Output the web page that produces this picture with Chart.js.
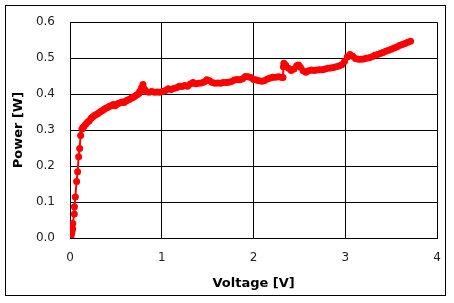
<!DOCTYPE html>
<html>
<head>
<meta charset="utf-8">
<script src="https://cdn.jsdelivr.net/npm/chart.js@4/dist/chart.umd.min.js"></script>
<style>
  html, body { margin: 0; padding: 0; background: #fff; }
  #wrap { width: 454px; height: 303px; }
</style>
</head>
<body>
<div id="wrap"><canvas id="powerChart" width="454" height="303"></canvas></div>
<script>
// Voltage [V] readings
const voltage = [
  0.005, 0.01, 0.018, 0.022, 0.029, 0.03, 0.047, 0.048, 0.058, 0.072, 0.083, 0.094, 0.105, 0.116, 0.13, 0.14, 0.152,
  0.17, 0.19, 0.21, 0.23, 0.25, 0.27, 0.29, 0.31, 0.33, 0.35, 0.37, 0.39, 0.41, 0.43, 0.45, 0.47, 0.49,
  0.51, 0.53, 0.55, 0.57, 0.59, 0.61, 0.63, 0.65, 0.67, 0.69, 0.71, 0.73, 0.75, 0.76, 0.78, 0.795, 0.81, 0.83,
  0.86, 0.89, 0.92, 0.95, 0.98, 1.01, 1.04, 1.07, 1.10, 1.13, 1.16, 1.19, 1.22, 1.25, 1.28, 1.31, 1.34, 1.37,
  1.40, 1.43, 1.46, 1.49, 1.52, 1.55, 1.58, 1.61, 1.64, 1.67, 1.70, 1.73, 1.76, 1.79, 1.82, 1.85, 1.88, 1.91,
  1.94, 1.97, 2.00, 2.03, 2.06, 2.09, 2.12, 2.15, 2.18, 2.21, 2.24, 2.27, 2.30, 2.32, 2.325, 2.33, 2.35, 2.38,
  2.41, 2.44, 2.47, 2.49, 2.51, 2.54, 2.57, 2.60, 2.63, 2.66, 2.69, 2.72, 2.75, 2.78, 2.81, 2.84, 2.87, 2.90,
  2.93, 2.96, 2.99, 3.02, 3.05, 3.08, 3.11, 3.14, 3.17, 3.20, 3.23, 3.26, 3.29, 3.32, 3.35, 3.38, 3.41, 3.44,
  3.47, 3.50, 3.53, 3.56, 3.59, 3.62, 3.65, 3.68, 3.71
];
// Power [W] readings
const power = [
  0.002, 0.005, 0.013, 0.02, 0.026, 0.04, 0.067, 0.087, 0.114, 0.157, 0.184, 0.226, 0.249, 0.285, 0.303, 0.307, 0.31,
  0.316, 0.322, 0.326, 0.333, 0.337, 0.341, 0.344, 0.347, 0.351, 0.354, 0.357, 0.361, 0.363, 0.366, 0.368, 0.371, 0.368,
  0.372, 0.375, 0.376, 0.378, 0.377, 0.381, 0.384, 0.386, 0.389, 0.391, 0.395, 0.398, 0.402, 0.408, 0.418, 0.427, 0.414, 0.407,
  0.405, 0.407, 0.405, 0.406, 0.405, 0.407, 0.41, 0.415, 0.413, 0.416, 0.418, 0.422, 0.421, 0.424, 0.422, 0.428, 0.432, 0.429,
  0.43, 0.431, 0.434, 0.44, 0.437, 0.432, 0.43, 0.431, 0.43, 0.432, 0.432, 0.433, 0.435, 0.439, 0.441, 0.44, 0.443, 0.449,
  0.448, 0.446, 0.441, 0.439, 0.437, 0.436, 0.438, 0.442, 0.445, 0.447, 0.447, 0.448, 0.447, 0.446, 0.476, 0.486, 0.48, 0.472,
  0.466, 0.47, 0.479, 0.481, 0.475, 0.465, 0.461, 0.465, 0.467, 0.466, 0.467, 0.468, 0.468, 0.47, 0.472, 0.473, 0.474, 0.476,
  0.478, 0.482, 0.491, 0.503, 0.51, 0.505, 0.499, 0.497, 0.497, 0.498, 0.5, 0.501, 0.504, 0.508, 0.51, 0.513, 0.516, 0.519,
  0.522, 0.525, 0.528, 0.531, 0.535, 0.538, 0.541, 0.544, 0.547
];
// axis ranges / tick steps
const xTicks = [0, 1, 2, 3, 4];
const yTicks = [0.0, 0.1, 0.2, 0.3, 0.4, 0.5, 0.6];

const points = voltage.map((v, i) => ({ x: v, y: power[i] }));

// outer frame + white background
const framePlugin = {
  id: 'frame',
  beforeDraw(chart) {
    const ctx = chart.ctx;
    ctx.save();
    ctx.fillStyle = '#fff';
    ctx.fillRect(0, 0, chart.width, chart.height);
    ctx.strokeStyle = '#000';
    ctx.lineWidth = 1;
    ctx.strokeRect(5.5, 5.5, 440, 290);
    ctx.restore();
  }
};

new Chart(document.getElementById('powerChart'), {
  type: 'scatter',
  data: {
    datasets: [{
      data: points,
      showLine: true,
      borderColor: '#ff0000',
      backgroundColor: '#ff0000',
      borderWidth: 2,
      pointRadius: 3.5,
      pointBorderWidth: 0,
      tension: 0
    }]
  },
  options: {
    responsive: false,
    animation: false,
    layout: { padding: { left: 6, right: 15, top: 16, bottom: 7 } },
    plugins: { legend: { display: false }, tooltip: { enabled: false } },
    scales: {
      x: {
        type: 'linear',
        min: xTicks[0],
        max: xTicks[xTicks.length - 1],
        afterBuildTicks: s => { s.ticks = xTicks.map(v => ({ value: v })); },
        afterFit: s => { s.height = 58; },
        grid: { color: '#000', lineWidth: 1, drawTicks: false },
        border: { color: '#000', width: 1 },
        ticks: { padding: 13, color: '#222', font: { family: 'DejaVu Sans', size: 12 } },
        title: {
          display: true, text: 'Voltage [V]', color: '#000',
          font: { family: 'DejaVu Sans', size: 13, weight: 'bold' },
          padding: { top: 0, bottom: 5 }
        }
      },
      y: {
        type: 'linear',
        min: yTicks[0],
        max: yTicks[yTicks.length - 1],
        afterBuildTicks: s => { s.ticks = yTicks.map(v => ({ value: v })); },
        afterFit: s => { s.width = 64; },
        grid: { color: '#000', lineWidth: 1, drawTicks: false },
        border: { color: '#000', width: 1 },
        ticks: {
          padding: 15, color: '#222', font: { family: 'DejaVu Sans', size: 12 },
          callback: v => v.toFixed(1)
        },
        title: {
          display: true, text: 'Power [W]', color: '#000',
          font: { family: 'DejaVu Sans', size: 13, weight: 'bold' },
          padding: { top: 5, bottom: 0 }
        }
      }
    }
  },
  plugins: [framePlugin]
});
</script>
</body>
</html>
